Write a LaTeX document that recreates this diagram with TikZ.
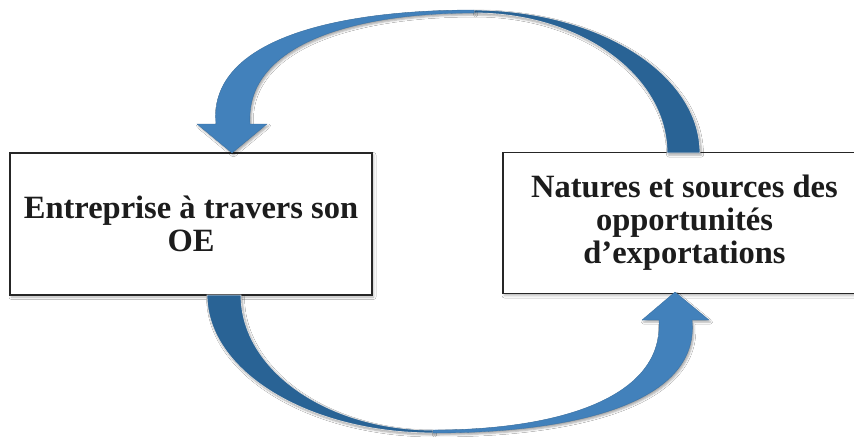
\documentclass[tikz,border=0pt]{standalone}
\usepackage{fontspec}
\setmainfont{Liberation Serif}
\usetikzlibrary{shadows.blur}
\definecolor{lightblue}{RGB}{66,129,187}
\definecolor{darkblue}{RGB}{41,99,149}
\definecolor{txt}{RGB}{28,28,28}
\begin{document}
\begin{tikzpicture}[x=1pt,y=-1pt,
  box/.style={draw=black!85, line width=1.2pt, fill=white, inner sep=0pt,
    align=center, text=txt, font=\fontsize{32.5}{33}\selectfont\bfseries,
    blur shadow={shadow xshift=1.5pt, shadow yshift=-2pt, shadow blur radius=2.5pt, shadow opacity=30}},
  darkpart/.style={fill=darkblue, draw=black!15, line width=0.8pt,
    blur shadow={shadow xshift=1.5pt, shadow yshift=-2pt, shadow blur radius=2pt, shadow opacity=35}},
  lightpart/.style={fill=lightblue, draw=lightblue!85!black, line width=0.3pt,
    blur shadow={shadow xshift=1.5pt, shadow yshift=-2pt, shadow blur radius=2pt, shadow opacity=35}}]
\clip (0,0) rectangle (854,437);
\fill[white] (0,0) rectangle (854,437);

\node[box, minimum width=362pt, minimum height=142pt] (ent) at (191,224)
  {Entreprise à travers son\\OE};
\node[box, minimum width=363pt, minimum height=141pt] (nat) at (684.5,223)
  {Natures et sources des\\opportunités\\d’exportations};

% top arrow: from (nat) back to (ent)
\path[darkpart] (700,153) arc[start angle=0,end angle=-90,x radius=226,y radius=143]
  -- (474,13) arc[start angle=-90,end angle=0,x radius=193,y radius=140] -- cycle;
\path[lightpart] (474,10) .. controls (324,10) and (208,44) .. (216,124)
  -- (197,124) -- (232,153) -- (267,124) -- (250,124)
  .. controls (245,46) and (350,13) .. (474,13) -- cycle;

% bottom arrow: from (ent) to (nat)
\path[darkpart] (207,295) arc[start angle=180,end angle=90,x radius=226,y radius=138]
  -- (433,430) arc[start angle=90,end angle=180,x radius=192,y radius=135] -- cycle;
\path[lightpart] (433,433) .. controls (583,433) and (700,400) .. (692,320)
  -- (709,320) -- (675,292) -- (642,320) -- (659,320)
  .. controls (664,398) and (558,430) .. (433,430) -- cycle;
\end{tikzpicture}
\end{document}
